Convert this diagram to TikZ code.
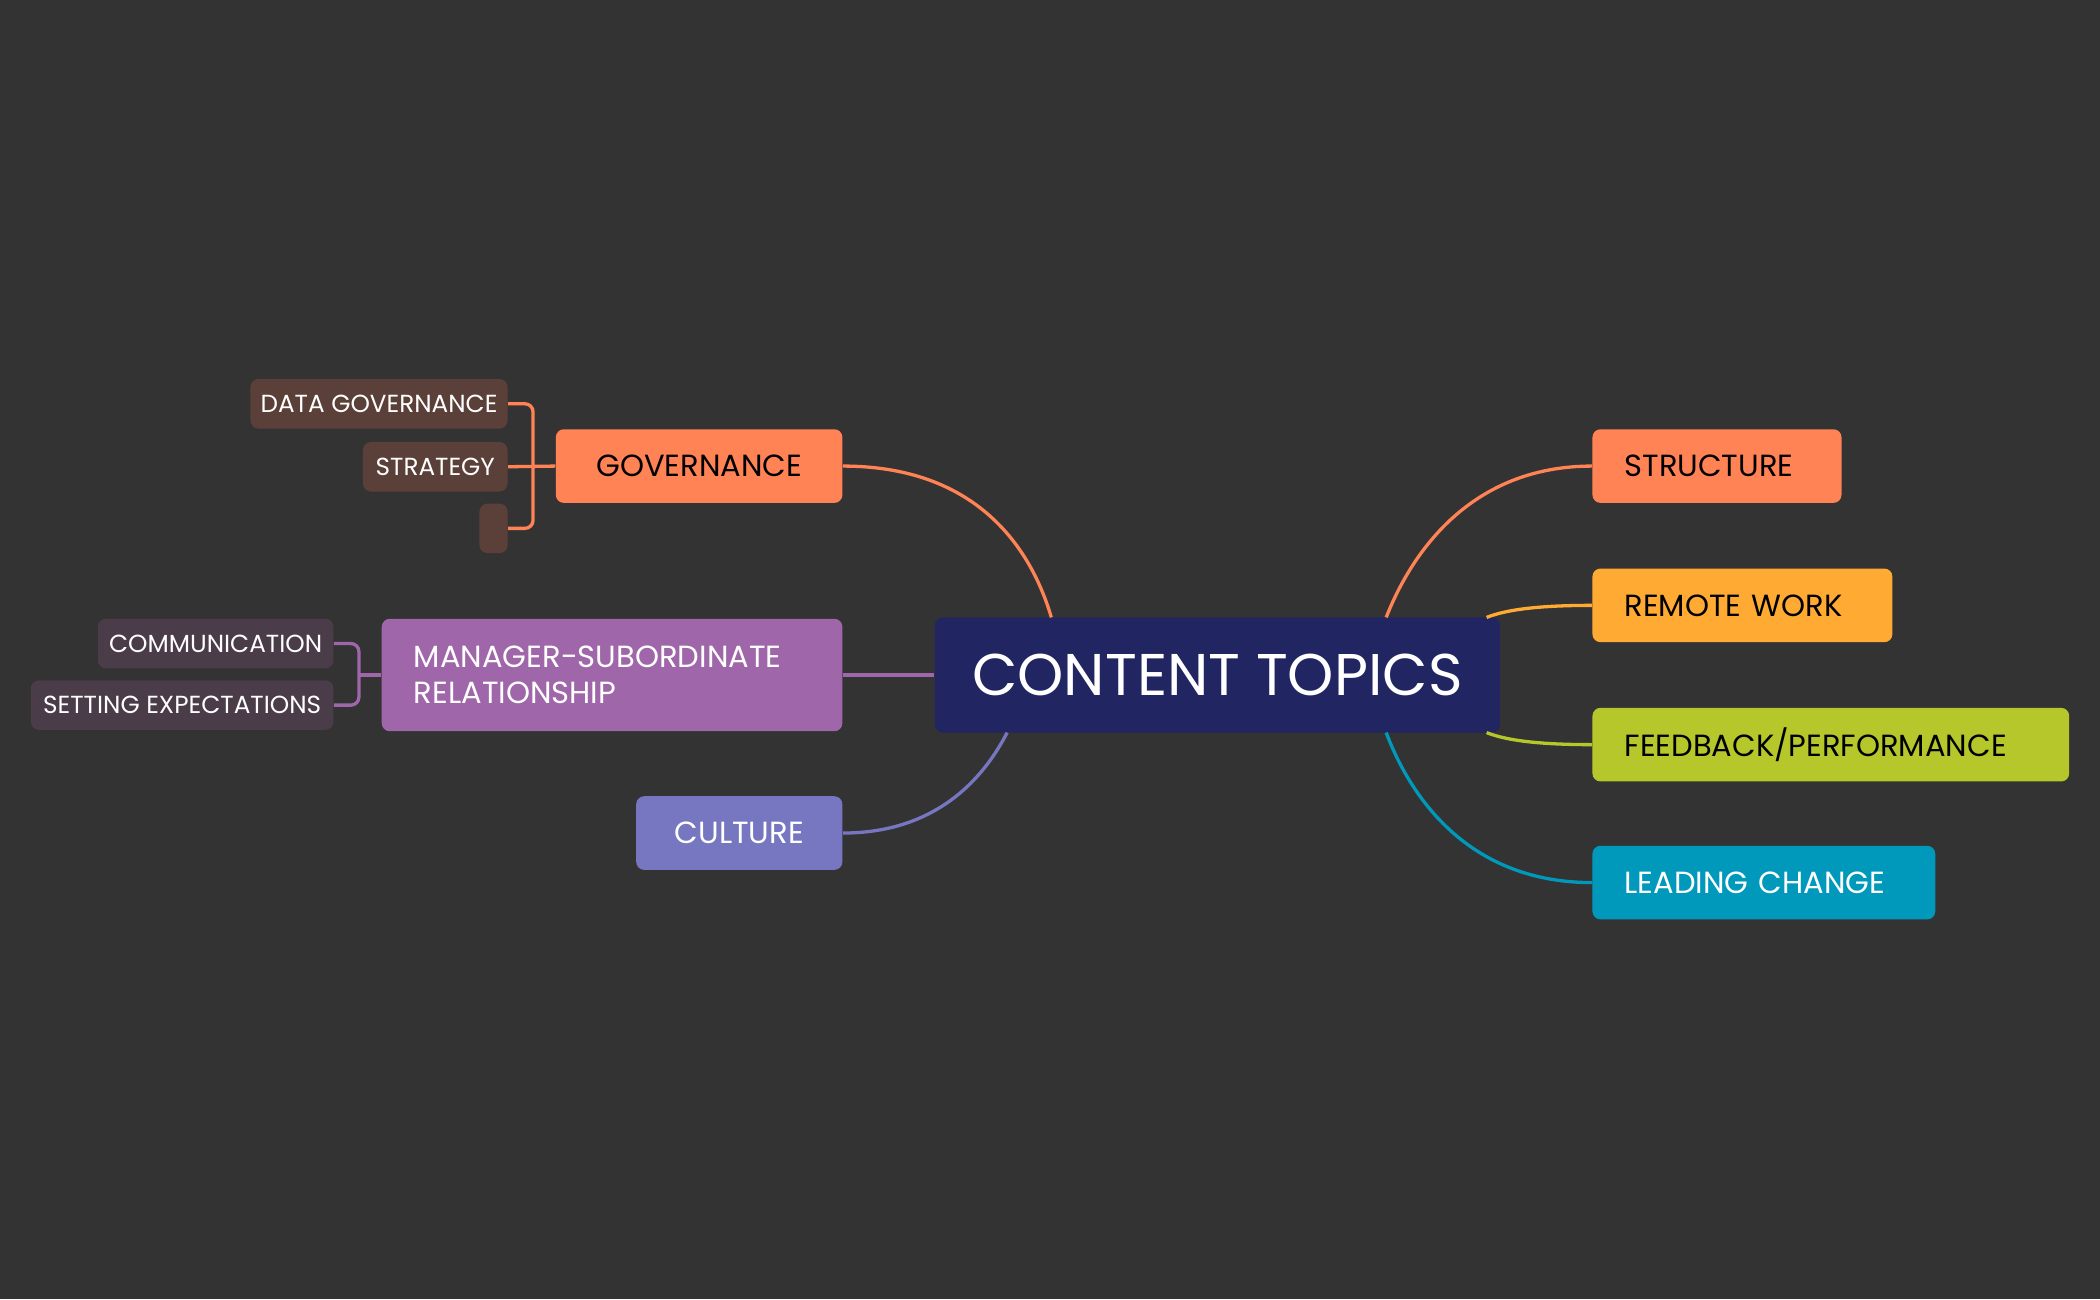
\documentclass[tikz,border=0pt]{standalone}
\usepackage{fontspec}
\setmainfont{Poppins}
\begin{document}
\begin{tikzpicture}[x=0.02cm,y=-0.02cm,
  box/.style={rounded corners=0.12cm,inner sep=0pt,align=left},
  main/.style={box,font=\fontsize{13pt}{15.5pt}\selectfont},
  sub/.style={box,font=\fontsize{10.5pt}{12pt}\selectfont,text=white},
  lk/.style={line width=1.4pt}]
\fill[fill={rgb,255:red,51;green,51;blue,51}] (0,0) rectangle (1568,970);
\useasboundingbox (0,0) rectangle (1568,970);
\definecolor{navy}{RGB}{33,37,97}
\definecolor{org}{RGB}{255,131,85}
\definecolor{yel}{RGB}{255,170,51}
\definecolor{lime}{RGB}{181,199,42}
\definecolor{teal}{RGB}{0,153,187}
\definecolor{purp}{RGB}{160,102,170}
\definecolor{lav}{RGB}{119,119,193}
\definecolor{brn}{RGB}{90,64,56}
\definecolor{plum}{RGB}{74,60,72}

\node[box,fill=navy,text=white,minimum width=8.44cm,minimum height=1.72cm,font=\fontsize{25pt}{28pt}\selectfont,align=center] (c) at (909,504) {CONTENT TOPICS};

\node[main,fill=org,minimum width=4.28cm,minimum height=1.1cm] (gov) at (522,348) {GOVERNANCE};
\node[main,fill=org,minimum width=3.72cm,minimum height=1.1cm,text width=2.76cm] (str) at (1282,348) {STRUCTURE};
\node[main,fill=yel,minimum width=4.48cm,minimum height=1.1cm,text width=3.52cm] (rem) at (1301,452) {REMOTE WORK};
\node[main,fill=lime,minimum width=7.12cm,minimum height=1.1cm,text width=6.16cm] (fb) at (1367,556) {FEEDBACK/PERFORMANCE};
\node[main,fill=teal,text=white,minimum width=5.12cm,minimum height=1.1cm,text width=4.16cm] (lc) at (1317,659) {LEADING CHANGE};
\node[main,fill=purp,text=white,minimum width=6.88cm,minimum height=1.68cm,text width=5.92cm] (mgr) at (457,504) {MANAGER-SUBORDINATE\\RELATIONSHIP};
\node[main,fill=lav,text=white,minimum width=3.08cm,minimum height=1.1cm] (cul) at (552,622) {CULTURE};

\node[sub,fill=brn,minimum width=3.84cm,minimum height=0.74cm] (dg) at (283,301.5) {DATA GOVERNANCE};
\node[sub,fill=brn,minimum width=2.16cm,minimum height=0.74cm] (st) at (325,348.5) {STRATEGY};
\node[sub,fill=brn,minimum width=0.42cm,minimum height=0.74cm] (em) at (368.5,394.5) {};
\node[sub,fill=plum,minimum width=3.52cm,minimum height=0.74cm] (com) at (161,480.5) {COMMUNICATION};
\node[sub,fill=plum,minimum width=4.52cm,minimum height=0.74cm] (se) at (136,526.5) {SETTING EXPECTATIONS};

\coordinate (ct1) at (785,461); \coordinate (ct2) at (1035,461);
\coordinate (cb1) at (752,547); \coordinate (cb2) at (1035,547);
\coordinate (cr1) at (1110,461); \coordinate (cr2) at (1110,547);

\draw[lk,org] (gov.east) .. controls (730,348) and (770,410) .. (ct1);
\draw[lk,org] (str.west) .. controls (1100,348) and (1055,410) .. (ct2);
\draw[lk,yel] (rem.west) .. controls (1150,452) and (1125,455) .. (cr1);
\draw[lk,lime] (fb.west) .. controls (1150,556) and (1125,553) .. (cr2);
\draw[lk,teal] (lc.west) .. controls (1100,659) and (1055,600) .. (cb2);
\draw[lk,lav] (cul.east) .. controls (700,622) and (735,580) .. (cb1);
\draw[lk,purp] (mgr.east) -- (c.west);

\draw[lk,org] (gov.west) -- (st.east);
\draw[lk,org,rounded corners=0.12cm] (dg.east) -- (398,301.5) -- (398,394.5) -- (em.east);
\draw[lk,purp] (mgr.west) -- (268,504);
\draw[lk,purp,rounded corners=0.12cm] (com.east) -- (268,480.5) -- (268,526.5) -- (se.east);
\end{tikzpicture}
\end{document}
